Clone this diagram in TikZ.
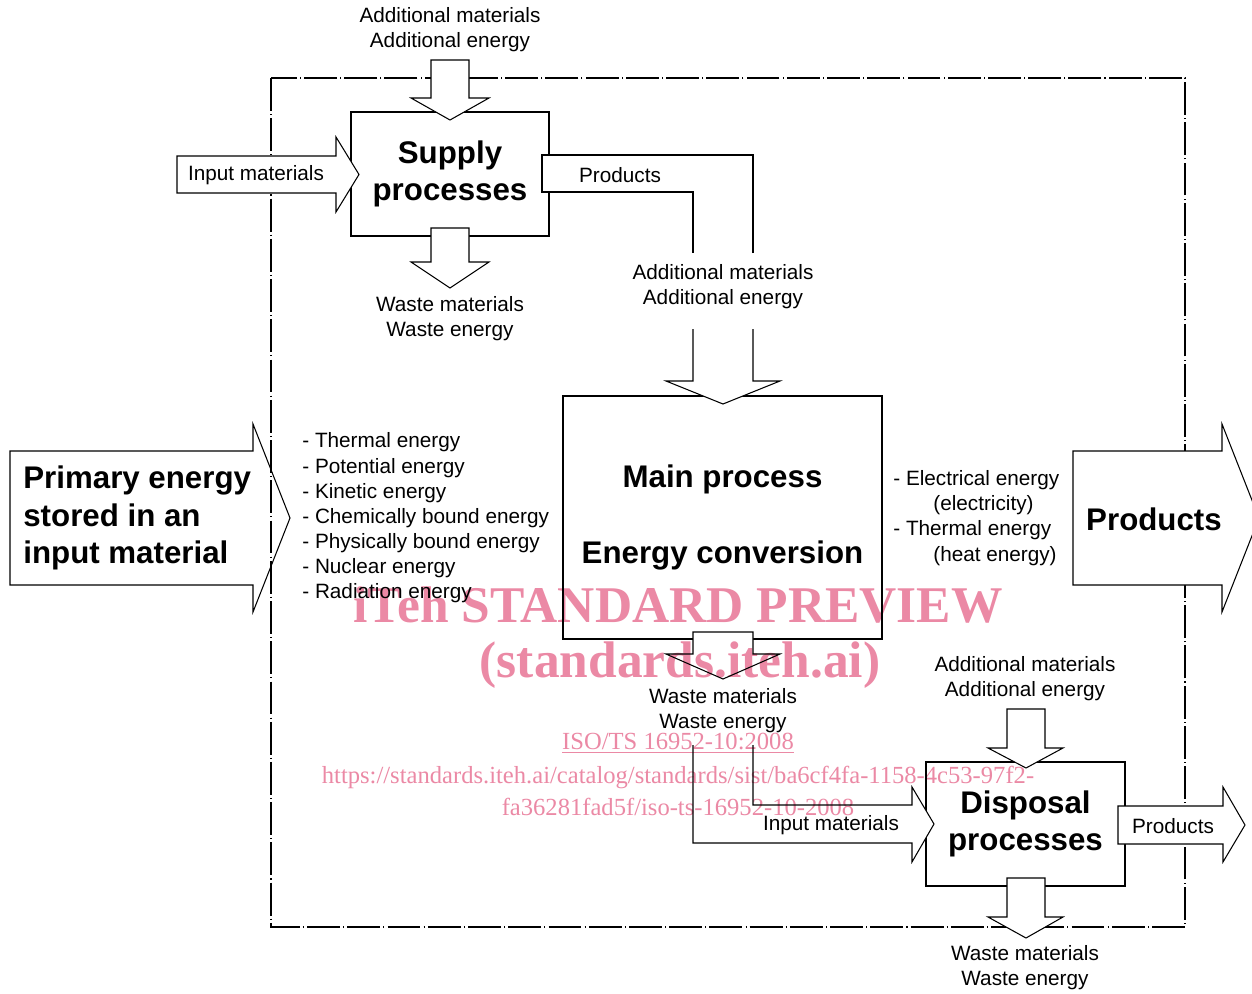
\documentclass[tikz,border=0pt]{standalone}
\usepackage{fontspec}
\setmainfont{Liberation Sans}
\newfontfamily\ecserif{Liberation Serif}
\usepackage{xcolor}
\definecolor{ecpink}{RGB}{235,137,165}
\newcommand{\ecsmall}{\fontsize{11.8}{14.3}\selectfont}
\newcommand{\ecbig}{\fontsize{17.8}{21.4}\selectfont\bfseries}
\newcommand{\ecwmbig}{\fontsize{29.3}{34}\selectfont\ecserif\bfseries}
\newcommand{\ecwmsmall}{\fontsize{14}{17.8}\selectfont\ecserif}
\tikzset{
ecproc/.style={rectangle,draw,line width=1.3pt,fill=white,align=center,font=\ecbig,inner sep=0pt},
ecblock/.style={draw,fill=white,line width=0.6pt,line join=miter},
ecedge/.style={line width=0.6pt,line join=miter},
ecbound/.style={line width=0.6pt,dash pattern=on 18.7pt off 1.8pt on 0.6pt off 1.8pt},
eclabel/.style={align=center,font=\ecsmall,inner sep=0pt},
eclist/.style={align=left,font=\ecsmall,inner sep=0pt,anchor=west},
ecbiglabel/.style={align=left,font=\ecbig,inner sep=0pt},
ecmark/.style={text=ecpink,align=center,inner sep=0pt}
}

\begin{document}
\begin{tikzpicture}[
x=0.02cm,
y=-0.02cm
]
\useasboundingbox (0,0) rectangle (1252,994);
% primary energy entering
\draw[ecblock] (10,451) -- (253,451) -- (253,424) -- (290,518) -- (253,612) -- (253,585) -- (10,585) -- cycle;
\node[ecbiglabel,anchor=west] (primary) at (23,518) {Primary energy\\stored in an\\input material};
% system boundary
\draw[ecbound] (271,78) rectangle (1185,927);
% processes
\node[ecproc,minimum width=3.96cm,minimum height=2.48cm] (supply) at (450,174) {Supply\\processes};
\node[ecproc,minimum width=6.38cm,minimum height=4.86cm] (main) at (722.5,517.5) {Main process\\[21.4pt]Energy conversion};
\node[ecproc,minimum width=3.98cm,minimum height=2.48cm] (disposal) at (1025.5,824) {Disposal\\processes};
% supply processes
\draw[ecblock] (431,60) -- (469,60) -- (469,98) -- (489,98) -- (450,120) -- (411,98) -- (431,98) -- cycle;
\draw[ecblock] (177,156) -- (336,156) -- (336,137) -- (359,174.5) -- (336,212) -- (336,193) -- (177,193) -- cycle;
\draw[ecblock] (431,228) -- (469,228) -- (469,262) -- (489,262) -- (450,288) -- (411,262) -- (431,262) -- cycle;
\node[eclabel] (supin) at (450,30) {Additional materials\\Additional energy};
\node[eclabel] (supinmat) at (256,175) {Input materials};
\node[eclabel] (supwaste) at (450,319) {Waste materials\\Waste energy};
% supply products into main process
\fill[white] (542,155) -- (753,155) -- (753,381) -- (780,381) -- (723,404) -- (666,381) -- (693,381) -- (693,192) -- (542,192) -- cycle;
\draw[ecedge] (753,253) -- (753,155) -- (542,155) -- (542,192) -- (693,192) -- (693,253);
\draw[ecedge] (693,329) -- (693,381) -- (666,381) -- (723,404) -- (780,381) -- (753,381) -- (753,329);
\node[eclabel] (supprod) at (620,175) {Products};
\node[eclabel] (mainin) at (723,287) {Additional materials\\Additional energy};
% forms of energy
\node[eclist] (informs) at (302,518) {- Thermal energy\\- Potential energy\\- Kinetic energy\\- Chemically bound energy\\- Physically bound energy\\- Nuclear energy\\- Radiation energy};
\node[eclist] (outforms) at (893,518) {- Electrical energy\\\hspace*{0.8cm}(electricity)\\- Thermal energy\\\hspace*{0.8cm}(heat energy)};
% products out
\draw[ecblock] (1073,451) -- (1222,451) -- (1222,424) -- (1259,518) -- (1222,612) -- (1222,585) -- (1073,585) -- cycle;
\node[ecbiglabel] (products) at (1154,519) {Products};
% main process waste, on to disposal
\draw[ecblock] (693,632) -- (753,632) -- (753,654) -- (780,654) -- (723,679) -- (666,654) -- (693,654) -- cycle;
\node[eclabel] (mainwaste) at (723,711) {Waste materials\\Waste energy};
\fill[white] (693,745) -- (753,745) -- (753,805) -- (912,805) -- (912,787) -- (934,824) -- (912,862) -- (912,843) -- (693,843) -- cycle;
\draw[ecedge] (753,745) -- (753,805) -- (912,805) -- (912,787) -- (934,824) -- (912,862) -- (912,843) -- (693,843) -- (693,745);
\node[eclabel] (disinmat) at (831,825) {Input materials};
% disposal processes
\draw[ecblock] (1007,709) -- (1045,709) -- (1045,748) -- (1063,748) -- (1026,768) -- (988,748) -- (1007,748) -- cycle;
\draw[ecblock] (1007,878) -- (1045,878) -- (1045,917) -- (1063,917) -- (1026,938) -- (988,917) -- (1007,917) -- cycle;
\draw[ecblock] (1118,806) -- (1223,806) -- (1223,787) -- (1245,825) -- (1223,862) -- (1223,844) -- (1118,844) -- cycle;
\node[eclabel] (disin) at (1025,679) {Additional materials\\Additional energy};
\node[eclabel] (disprod) at (1173,826) {Products};
\node[eclabel] (diswaste) at (1025,968) {Waste materials\\Waste energy};
% watermark
\begin{scope}[blend mode=multiply]
\node[ecmark,font=\ecwmbig] (wmtitle) at (678,605) {iTeh STANDARD PREVIEW};
\node[ecmark,font=\ecwmbig] (wmsite) at (680,665) {(standards.iteh.ai)};
\node[ecmark,font=\ecwmsmall] (wmiso) at (678,743) {\underline{ISO/TS 16952-10:2008}};
\node[ecmark,font=\ecwmsmall] (wmurl) at (678,791) {https://standards.iteh.ai/catalog/standards/sist/ba6cf4fa-1158-4c53-97f2-\\fa36281fad5f/iso-ts-16952-10-2008};
\end{scope}
\end{tikzpicture}
\end{document}
